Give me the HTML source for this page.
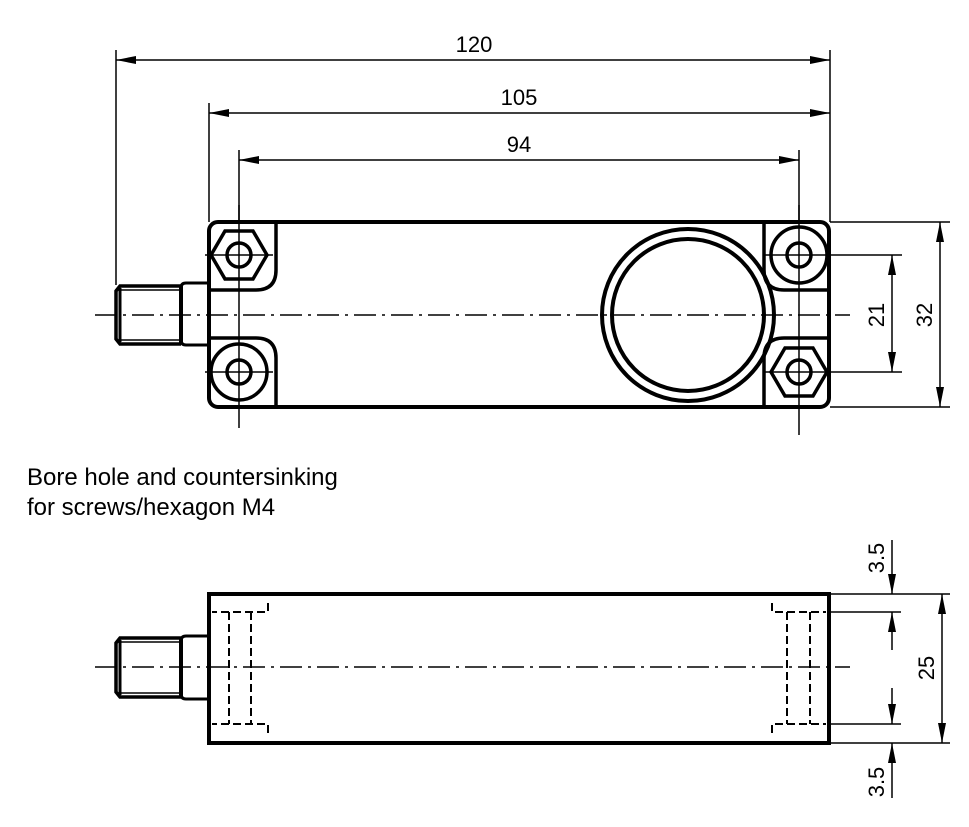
<!DOCTYPE html>
<html><head><style>body{margin:0;background:#fff}svg{display:block}</style></head><body>
<svg width="969" height="827" viewBox="0 0 969 827" xmlns="http://www.w3.org/2000/svg" font-family="Liberation Sans, sans-serif">
<defs>
<marker id="a" viewBox="0 0 20 8" refX="20" refY="4" markerWidth="20" markerHeight="8" markerUnits="userSpaceOnUse" orient="auto-start-reverse"><path d="M0,0L20,4L0,8z" fill="#000"/></marker>
</defs>
<g fill="none" stroke="#000">
<rect x="209" y="222" width="620" height="185" rx="9" stroke-width="4"/>
<path d="M209,290H256Q276,290 276,270V222" stroke-width="3.5"/>
<path d="M209,338H256Q276,338 276,358V407" stroke-width="3.5"/>
<path d="M829,290H784Q764,290 764,270V222" stroke-width="3.5"/>
<path d="M829,338H784Q764,338 764,358V407" stroke-width="3.5"/>
<path d="M209,283H186Q181,283 181,288V340Q181,345 186,345H209" stroke-width="3"/>
<path d="M181,286H120L116,291V339L120,344H181" stroke-width="3.5"/>
<line x1="181" y1="286" x2="181" y2="344" stroke-width="4"/>
<line x1="121" y1="290" x2="181" y2="290" stroke-width="1.5"/>
<line x1="121" y1="340" x2="181" y2="340" stroke-width="1.5"/>
<line x1="120" y1="288" x2="120" y2="342" stroke-width="3"/>
<polygon points="211,255 225,231 253,231 267,255 253,279 225,279" stroke-width="3.5"/>
<circle cx="239" cy="255" r="12" stroke-width="3.5"/>
<circle cx="239" cy="372" r="28" stroke-width="3.5"/>
<circle cx="239" cy="372" r="12" stroke-width="3.5"/>
<circle cx="799" cy="255" r="28" stroke-width="3.5"/>
<circle cx="799" cy="255" r="12" stroke-width="3.5"/>
<polygon points="771,372 785,348 813,348 827,372 813,396 785,396" stroke-width="3.5"/>
<circle cx="799" cy="372" r="12" stroke-width="3.5"/>
<circle cx="688" cy="315" r="86" stroke-width="4"/>
<circle cx="688" cy="315" r="76" stroke-width="4"/>
<g stroke-width="1.5" stroke-dasharray="22,6,3,6">
<line x1="95" y1="315" x2="850" y2="315"/>
<line x1="95" y1="667" x2="850" y2="667"/>
</g>
<g stroke-width="1.5">
<line x1="239" y1="205" x2="239" y2="428"/>
<line x1="799" y1="205" x2="799" y2="435"/>
<line x1="205" y1="255" x2="273" y2="255"/><line x1="205" y1="372" x2="273" y2="372"/>
<line x1="765" y1="255" x2="850" y2="255"/><line x1="765" y1="372" x2="850" y2="372"/>
<line x1="116" y1="50" x2="116" y2="285"/>
<line x1="830" y1="50" x2="830" y2="222"/>
<line x1="209" y1="103" x2="209" y2="222"/>
<line x1="239" y1="150" x2="239" y2="222"/>
<line x1="799" y1="150" x2="799" y2="222"/>
<line x1="830" y1="222" x2="950" y2="222"/>
<line x1="830" y1="407" x2="950" y2="407"/>
<line x1="850" y1="255" x2="902" y2="255"/>
<line x1="850" y1="372" x2="902" y2="372"/>
<line x1="116" y1="60" x2="830" y2="60" marker-start="url(#a)" marker-end="url(#a)"/>
<line x1="209" y1="113" x2="830" y2="113" marker-start="url(#a)" marker-end="url(#a)"/>
<line x1="239" y1="160" x2="799" y2="160" marker-start="url(#a)" marker-end="url(#a)"/>
<line x1="940" y1="222" x2="940" y2="407" marker-start="url(#a)" marker-end="url(#a)"/>
<line x1="892" y1="255" x2="892" y2="372" marker-start="url(#a)" marker-end="url(#a)"/>
</g>
<rect x="209" y="594" width="620" height="149" stroke-width="4"/>
<path d="M209,636H186Q181,636 181,641V694Q181,699 186,699H209" stroke-width="3"/>
<path d="M181,638H120L116,643V692L120,697H181" stroke-width="3.5"/>
<line x1="181" y1="638" x2="181" y2="697" stroke-width="4"/>
<line x1="121" y1="642" x2="181" y2="642" stroke-width="1.5"/>
<line x1="121" y1="693" x2="181" y2="693" stroke-width="1.5"/>
<line x1="120" y1="640" x2="120" y2="695" stroke-width="3"/>
<g stroke-width="2" stroke-dasharray="8,4">
<path d="M268,603V612H212"/><path d="M268,733V724H212"/>
<line x1="229" y1="612" x2="229" y2="724"/><line x1="251" y1="612" x2="251" y2="724"/>
<path d="M772,603V612H826"/><path d="M772,733V724H826"/>
<line x1="787" y1="612" x2="787" y2="724"/><line x1="810" y1="612" x2="810" y2="724"/>
</g>
<g stroke-width="1.5">
<line x1="830" y1="594" x2="950" y2="594"/>
<line x1="830" y1="743" x2="950" y2="743"/>
<line x1="830" y1="612" x2="901" y2="612"/>
<line x1="830" y1="724" x2="901" y2="724"/>
<line x1="942" y1="594" x2="942" y2="743" marker-start="url(#a)" marker-end="url(#a)"/>
<line x1="892" y1="540" x2="892" y2="594" marker-end="url(#a)"/>
<line x1="892" y1="650" x2="892" y2="612" marker-end="url(#a)"/>
<line x1="892" y1="688" x2="892" y2="724" marker-end="url(#a)"/>
<line x1="892" y1="798" x2="892" y2="743" marker-end="url(#a)"/>
</g>
</g>
<g font-size="22" fill="#000">
<text x="474" y="52" text-anchor="middle">120</text>
<text x="519" y="105" text-anchor="middle">105</text>
<text x="519" y="152" text-anchor="middle">94</text>
<text transform="translate(884,315) rotate(-90)" text-anchor="middle">21</text>
<text transform="translate(932,315) rotate(-90)" text-anchor="middle">32</text>
<text transform="translate(934,668) rotate(-90)" text-anchor="middle">25</text>
<text transform="translate(884,558) rotate(-90)" text-anchor="middle">3.5</text>
<text transform="translate(884,782) rotate(-90)" text-anchor="middle">3.5</text>
</g>
<g font-size="24" fill="#000">
<text x="27" y="485">Bore hole and countersinking</text>
<text x="27" y="515">for screws/hexagon M4</text>
</g>
</svg>
</body></html>
